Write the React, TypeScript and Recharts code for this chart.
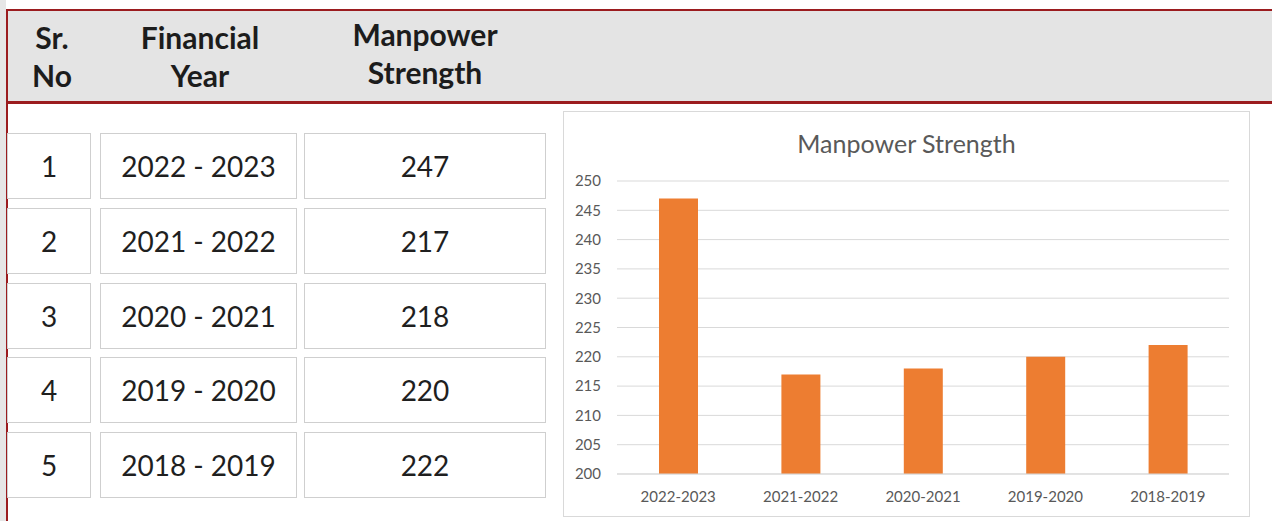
import React from 'react';
import { BarChart, Bar, XAxis, YAxis, CartesianGrid } from 'recharts';

const serialNumbers = ['1', '2', '3', '4', '5'];
const tableYears = ['2022 - 2023', '2021 - 2022', '2020 - 2021', '2019 - 2020', '2018 - 2019'];
const chartYears = ['2022-2023', '2021-2022', '2020-2021', '2019-2020', '2018-2019'];
const strength = [247, 217, 218, 220, 222];
const yTicks = [200, 205, 210, 215, 220, 225, 230, 235, 240, 245, 250];
const headers = [['Sr.', 'No'], ['Financial', 'Year'], ['Manpower', 'Strength']];

const data = chartYears.map((y, i) => ({ year: y, value: strength[i] }));

const FONT = 'Lato, "Open Sans", sans-serif';
const RED = '#9b1c1f';

const cols = [
  { left: 7, width: 84 },
  { left: 100, width: 197 },
  { left: 304, width: 242 },
];
const rowTops = [133, 208, 283, 357, 432];
const rowH = 66;

const headerCenters = [
  { cx: 52, cy: 56 },
  { cx: 200, cy: 56 },
  { cx: 425, cy: 53 },
];

export default function App() {
  return (
    <div style={{ position: 'absolute', left: 0, top: 0, width: 1272, height: 521, background: '#fff', overflow: 'hidden', fontFamily: FONT }}>
      <div style={{ position: 'absolute', left: 0, top: 0, width: 6, height: 521, background: '#e6e6e6' }} />
      <div style={{ position: 'absolute', left: 6, top: 9, width: 2, height: 512, background: RED }} />
      <div style={{ position: 'absolute', left: 6, top: 9, width: 1266, height: 2, background: RED }} />
      <div style={{ position: 'absolute', left: 8, top: 11, width: 1264, height: 90, background: '#e4e4e4' }} />
      <div style={{ position: 'absolute', left: 6, top: 101, width: 1266, height: 3, background: RED }} />
      {headers.map((h, i) => (
        <div key={i} style={{ position: 'absolute', left: headerCenters[i].cx - 100, width: 200, top: headerCenters[i].cy - 38, height: 76, textAlign: 'center', fontWeight: 700, fontSize: 30, lineHeight: '38px', color: '#1c1c1c' }}>
          {h[0]}<br />{h[1]}
        </div>
      ))}
      {rowTops.map((top, r) => (
        <React.Fragment key={r}>
          {[serialNumbers[r], tableYears[r], String(strength[r])].map((txt, c) => (
            <div key={c} style={{ position: 'absolute', left: cols[c].left, top, width: cols[c].width, height: rowH, boxSizing: 'border-box', border: '1px solid #cfcfcf', display: 'flex', alignItems: 'center', justifyContent: 'center', fontSize: 28, color: '#1f1f1f', background: '#fff' }}>
              {txt}
            </div>
          ))}
        </React.Fragment>
      ))}
      <div style={{ position: 'absolute', left: 563, top: 111, width: 687, height: 406, boxSizing: 'border-box', border: '1px solid #d9d9d9', background: '#fff' }} />
      <div style={{ position: 'absolute', left: 563, top: 127, width: 687, textAlign: 'center', fontSize: 25, lineHeight: '32px', color: '#595959' }}>
        Manpower Strength
      </div>
      <div style={{ position: 'absolute', left: 563, top: 111 }}>
        <BarChart width={687} height={406} data={data} margin={{ top: 70, right: 21, bottom: 0, left: 0 }}>
          <CartesianGrid vertical={false} stroke="#d9d9d9" strokeWidth={1} />
          <XAxis dataKey="year" height={43} axisLine={{ stroke: '#d9d9d9' }} tickLine={false} tickSize={0} tickMargin={17} tick={{ fill: '#595959', fontSize: 15, fontFamily: FONT }} />
          <YAxis width={54} domain={[200, 250]} ticks={yTicks} interval={0} axisLine={false} tickLine={false} tickSize={0} tickMargin={16} tick={{ fill: '#595959', fontSize: 15, fontFamily: FONT }} />
          <Bar dataKey="value" fill="#ED7D31" barSize={39} isAnimationActive={false} />
        </BarChart>
      </div>
    </div>
  );
}
